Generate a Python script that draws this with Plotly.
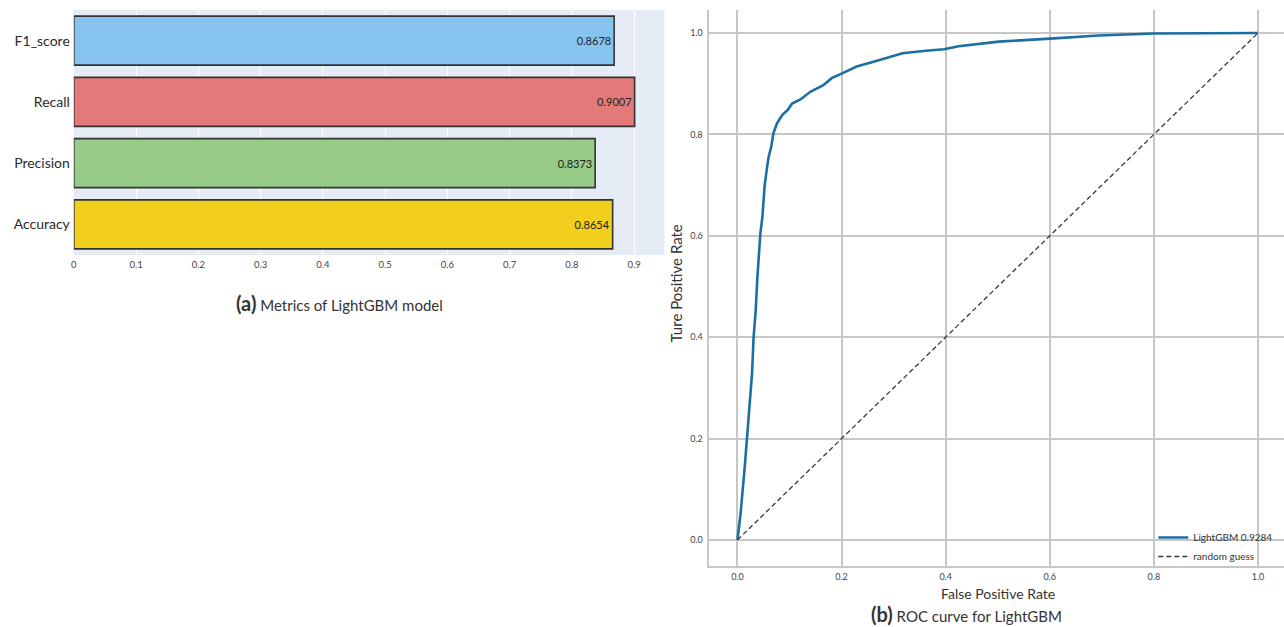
import plotly.graph_objects as go

# ---- metrics of the LightGBM model (bottom-to-top order on the category axis)
metric_names = ["Accuracy", "Precision", "Recall", "F1_score"]
metric_values = [0.8654, 0.8373, 0.9007, 0.8678]
metric_colors = ["#f1cf1c", "#97cb88", "#e37a79", "#87c3ef"]
metric_ticks = [0, 0.1, 0.2, 0.3, 0.4, 0.5, 0.6, 0.7, 0.8, 0.9]
metric_tick_text = ["0", "0.1", "0.2", "0.3", "0.4", "0.5", "0.6", "0.7", "0.8", "0.9"]

# ---- ROC curve points
fpr = [0, 0.006, 0.014, 0.018, 0.023, 0.028, 0.031, 0.035, 0.038, 0.041, 0.044,
       0.048, 0.052, 0.057, 0.060, 0.065, 0.069, 0.076, 0.086, 0.097, 0.105,
       0.121, 0.140, 0.165, 0.181, 0.200, 0.229, 0.260, 0.292, 0.317, 0.362,
       0.397, 0.425, 0.502, 0.601, 0.694, 0.801, 1.0]
tpr = [0, 0.052, 0.144, 0.197, 0.275, 0.328, 0.400, 0.452, 0.513, 0.572, 0.605,
       0.638, 0.697, 0.736, 0.756, 0.776, 0.802, 0.822, 0.838, 0.849, 0.861,
       0.869, 0.884, 0.897, 0.911, 0.920, 0.934, 0.943, 0.952, 0.960, 0.965,
       0.968, 0.974, 0.983, 0.989, 0.995, 0.999, 1.0]
guess_x = [0, 1]
guess_y = [0, 1]
roc_auc = 0.9284
roc_ticks = [0, 0.2, 0.4, 0.6, 0.8, 1.0]
roc_tick_text = ["0.0", "0.2", "0.4", "0.6", "0.8", "1.0"]

W, H = 1284, 627
FONT = "Lato"
GRID = "#c6c6c6"

fig = go.Figure()

fig.add_trace(go.Bar(
    x=metric_values, y=metric_names, orientation="h",
    marker=dict(color=metric_colors, line=dict(color="#333333", width=1.6)),
    width=0.8,
    text=[f"{v:.4f}" for v in metric_values],
    textposition="inside", insidetextanchor="end",
    textfont=dict(family=FONT, size=11, color="#222222"),
    constraintext="none",
    xaxis="x", yaxis="y", showlegend=False,
))

fig.add_trace(go.Scatter(
    x=fpr, y=tpr, mode="lines", name=f"LightGBM {roc_auc}",
    line=dict(color="#1a6fa3", width=2.6),
    xaxis="x2", yaxis="y2",
))
fig.add_trace(go.Scatter(
    x=guess_x, y=guess_y, mode="lines", name="random guess",
    line=dict(color="#3a3a3a", width=1.3, dash="5px,3px"),
    xaxis="x2", yaxis="y2",
))

fig.update_layout(
    width=W, height=H,
    margin=dict(l=0, r=0, t=0, b=0),
    paper_bgcolor="white",
    plot_bgcolor="white",
    font=dict(family=FONT, color="#333333"),
    xaxis=dict(
        domain=[71 / W, 663 / W], range=[0, 0.9486],
        tickvals=metric_ticks, ticktext=metric_tick_text,
        tickfont=dict(size=9.5, color="#444444"),
        showgrid=True, gridcolor="white", gridwidth=1,
        zeroline=False, showline=False, ticks="", ticklabelstandoff=2,
    ),
    yaxis=dict(
        domain=[1 - 255 / H, 1 - 10 / H], range=[-0.5, 3.5],
        tickfont=dict(size=14, color="#2a2a2a"),
        showgrid=False, zeroline=False, ticks="", ticklabelstandoff=3,
    ),
    xaxis2=dict(
        domain=[708 / W, 1.0], range=[-0.054, 1.05],
        tickvals=roc_ticks, ticktext=roc_tick_text,
        tickfont=dict(size=9, color="#444444"),
        showgrid=True, gridcolor=GRID, gridwidth=1.6,
        zeroline=False, showline=True, linecolor=GRID, linewidth=1.6,
        ticks="", ticklabelstandoff=1, anchor="y2",
    ),
    yaxis2=dict(
        domain=[1 - 566 / H, 1 - 10 / H], range=[-0.0513, 1.0454],
        tickvals=roc_ticks, ticktext=roc_tick_text,
        tickfont=dict(size=9, color="#444444"),
        showgrid=True, gridcolor=GRID, gridwidth=1.6,
        zeroline=False, showline=True, linecolor=GRID, linewidth=1.6,
        ticks="", ticklabelstandoff=3, anchor="x2",
    ),
    legend=dict(
        x=1153 / W, y=1 - 523 / H, xanchor="left", yanchor="top",
        bgcolor="rgba(0,0,0,0)", font=dict(size=10, color="#333333", family=FONT),
        itemwidth=30, tracegroupgap=0,
    ),
)

# the light panel background only behind the metrics bars
fig.add_shape(type="rect", xref="paper", yref="paper",
              x0=71 / W, x1=663 / W, y0=1 - 255 / H, y1=1 - 10 / H,
              fillcolor="#e6ecf6", line=dict(width=0), layer="below")

annotations = [
    dict(text="<span style='font-size:20px'><b>(a)</b></span> Metrics of LightGBM model",
         x=337 / W, y=1 - 303 / H, font=dict(size=15, color="#333333")),
    dict(text="<span style='font-size:20px'><b>(b)</b></span> ROC curve for LightGBM",
         x=966 / W, y=1 - 614 / H, font=dict(size=15, color="#333333")),
    dict(text="False Positive Rate", x=997 / W, y=1 - 593 / H,
         font=dict(size=14, color="#333333")),
    dict(text="Ture Positive Rate", x=675 / W, y=1 - 283 / H, textangle=-90,
         font=dict(size=15, color="#333333")),
]
for a in annotations:
    fig.add_annotation(xref="paper", yref="paper", showarrow=False,
                       xanchor="center", yanchor="middle", **a)

fig.write_html("out.html")
